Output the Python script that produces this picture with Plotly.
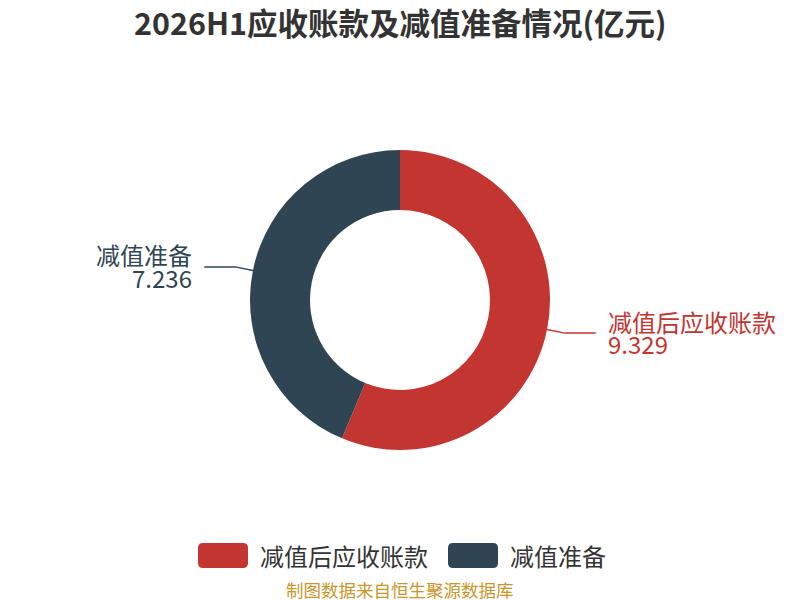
import math
import plotly.graph_objects as go

title = "2026H1应收账款及减值准备情况(亿元)"
categories = ["减值后应收账款", "减值准备"]
values = [9.329, 7.236]
colors = ["#c23531", "#2f4554"]
source = "制图数据来自恒生聚源数据库"

# page has an 8px body margin; compensate so positions match an 800x600 view
OFF = 8
W, H = 800 - OFF, 600 - OFF
CX, CY, R, R_IN = 400, 300, 150, 90
FONT = "Noto Sans CJK SC, Microsoft YaHei, sans-serif"


def px(x):
    return (x - OFF) / W


def py(y):
    return 1 - (y - OFF) / H


fig = go.Figure(go.Pie(
    labels=categories, values=values, hole=R_IN / R, sort=False,
    direction="clockwise", rotation=0,
    marker=dict(colors=colors, line=dict(width=0)),
    textinfo="none", hoverinfo="label+value+percent",
    domain=dict(x=[px(CX - R), px(CX + R)], y=[py(CY + R), py(CY - R)]),
    showlegend=False,
))

shapes, annotations = [], []
total = sum(values)
start = 90.0
for cat, val, col in zip(categories, values, colors):
    sweep = val / total * 360
    mid = math.radians(start - sweep / 2)
    start -= sweep
    x0, y0 = CX + R * math.cos(mid), CY - R * math.sin(mid)
    x1, y1 = CX + (R + 18) * math.cos(mid), CY - (R + 18) * math.sin(mid)
    side = 1 if math.cos(mid) >= 0 else -1
    x2 = x1 + side * 31
    shapes.append(dict(type="path", xref="paper", yref="paper",
                       path=f"M {px(x0)},{py(y0)} L {px(x1)},{py(y1)} L {px(x2)},{py(y1)}",
                       line=dict(color=col, width=1.5)))
    for txt, dy in ((cat, -12), (f"{val:.3f}", 10.5)):
        annotations.append(dict(
            x=px(x2 + side * 10), y=py(y1 + dy), xref="paper", yref="paper",
            text=txt, showarrow=False,
            xanchor="left" if side > 0 else "right", yanchor="middle",
            font=dict(family=FONT, size=24, color=col)))

# custom legend with rounded swatches
lx = 198
for cat, col in zip(categories, colors):
    x0, x1, y0, y1, r = lx, lx + 50, 543, 568, 5
    path = (f"M {px(x0 + r)},{py(y0)} L {px(x1 - r)},{py(y0)} "
            f"Q {px(x1)},{py(y0)} {px(x1)},{py(y0 + r)} L {px(x1)},{py(y1 - r)} "
            f"Q {px(x1)},{py(y1)} {px(x1 - r)},{py(y1)} L {px(x0 + r)},{py(y1)} "
            f"Q {px(x0)},{py(y1)} {px(x0)},{py(y1 - r)} L {px(x0)},{py(y0 + r)} "
            f"Q {px(x0)},{py(y0)} {px(x0 + r)},{py(y0)} Z")
    shapes.append(dict(type="path", xref="paper", yref="paper", path=path,
                       fillcolor=col, line=dict(width=0)))
    annotations.append(dict(x=px(x1 + 10), y=py(555.5), xref="paper", yref="paper",
                            text=cat, showarrow=False, xanchor="left", yanchor="middle",
                            font=dict(family=FONT, size=24, color="#333")))
    lx = x1 + 10 + len(cat) * 24 + 22

annotations.append(dict(x=px(400), y=py(589), xref="paper", yref="paper", text=source,
                        showarrow=False, xanchor="center", yanchor="middle",
                        font=dict(family=FONT, size=17.5, color="#c9962a")))
annotations.append(dict(x=px(400), y=py(22), xref="paper", yref="paper",
                        text=f"<b>{title}</b>", showarrow=False,
                        xanchor="center", yanchor="middle",
                        font=dict(family=FONT, size=30.5, color="#333")))

fig.update_layout(width=W, height=H, margin=dict(l=0, r=0, t=0, b=0),
                  paper_bgcolor="white", plot_bgcolor="white",
                  shapes=shapes, annotations=annotations)
fig.write_html("out.html")
